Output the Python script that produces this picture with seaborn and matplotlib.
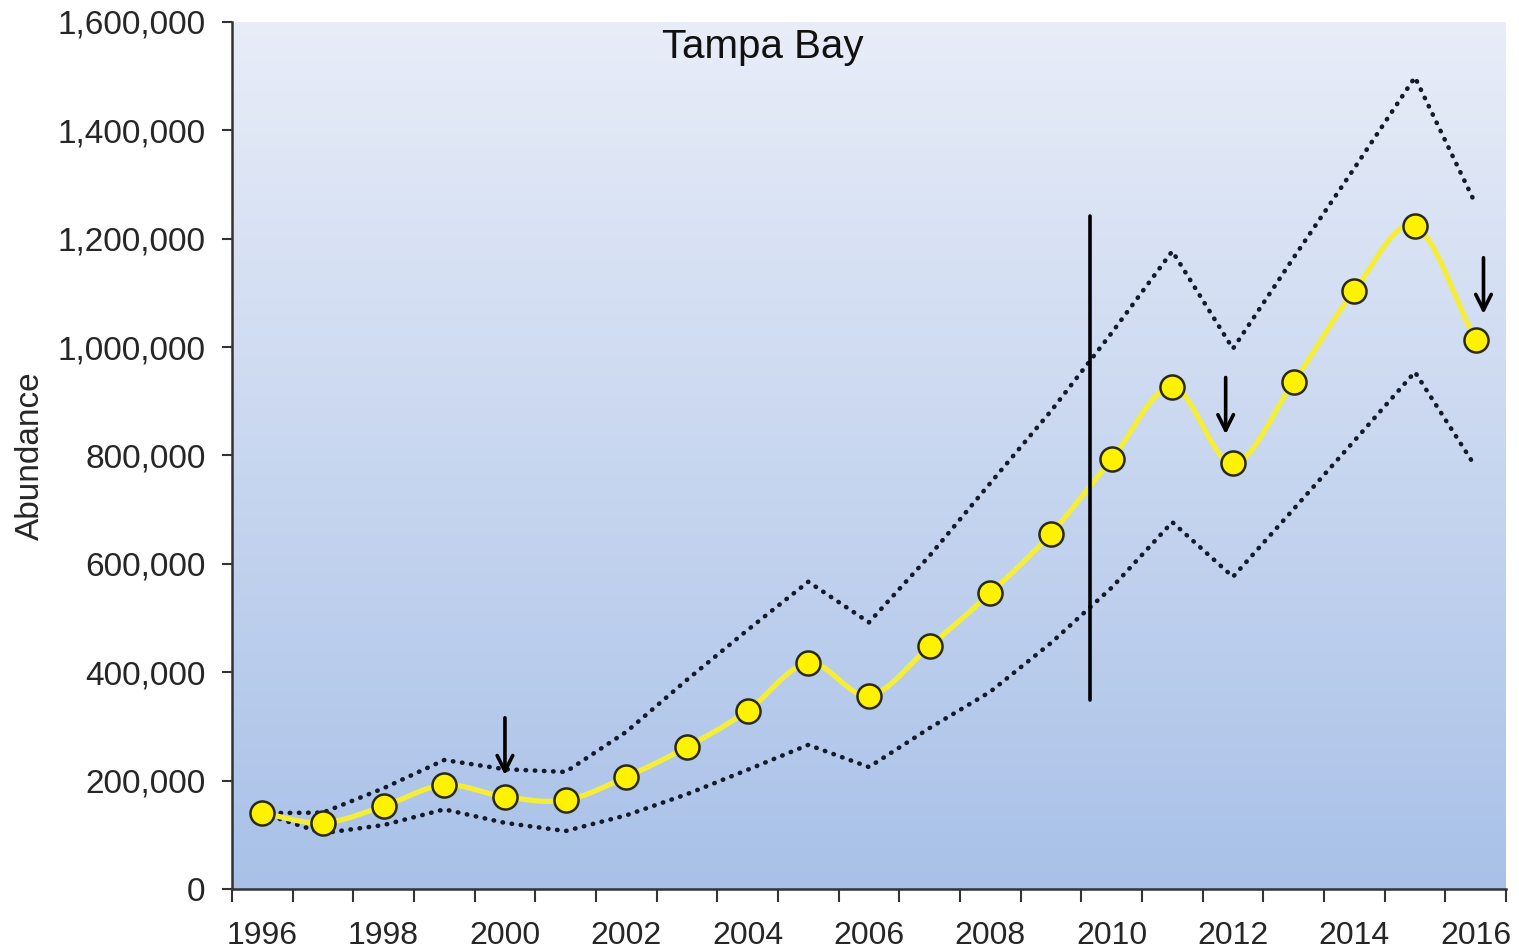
import numpy as np
import pandas as pd
import matplotlib
matplotlib.use("Agg")
import matplotlib.pyplot as plt
from matplotlib.ticker import FuncFormatter, MultipleLocator
import seaborn as sns

sns.set_theme(style="white")
plt.rcParams['font.family'] = ['Liberation Sans', 'DejaVu Sans']

# data
years = list(range(1996, 2017))
abundance = [140000, 122000, 153000, 192000, 170000, 164000, 207000, 262000,
             329000, 417000, 357000, 448000, 546000, 656000, 793000, 926000,
             786000, 936000, 1104000, 1223000, 1013000]
upper = [140000, 141000, 186000, 238000, 221000, 216000, 290000, 386000,
         478000, 567000, 492000, 615000, 749000, 882000, 1026000, 1177000,
         997000, 1165000, 1330000, 1498000, 1264000]
lower = [140000, 103000, 118000, 147000, 122000, 107000, 136000, 175000,
         220000, 266000, 225000, 297000, 364000, 454000, 556000, 677000,
         576000, 701000, 827000, 954000, 779000]

# vertical marker line and arrows (x in years, y in abundance)
vline_x = 2009.64
vline_y = (349000, 1242000)
arrow_x = [2000.0, 2011.88, 2016.13]
arrow_top = [321000, 949000, 1170000]
arrow_tip = [205000, 834000, 1056000]

df = pd.DataFrame({'Year': years, 'Abundance': abundance,
                   'Upper': upper, 'Lower': lower})


def smooth(x, y, n=20):
    # Catmull-Rom curve through the points, like a smoothed spreadsheet line
    x = np.asarray(x, float)
    y = np.asarray(y, float)
    px = np.concatenate([[2 * x[0] - x[1]], x, [2 * x[-1] - x[-2]]])
    py = np.concatenate([[2 * y[0] - y[1]], y, [2 * y[-1] - y[-2]]])
    t = np.linspace(0, 1, n, endpoint=False)
    xs, ys = [], []
    for i in range(1, len(px) - 2):
        for p, out in ((px, xs), (py, ys)):
            p0, p1, p2, p3 = p[i - 1], p[i], p[i + 1], p[i + 2]
            out.extend(0.5 * ((2 * p1) + (-p0 + p2) * t
                              + (2 * p0 - 5 * p1 + 4 * p2 - p3) * t ** 2
                              + (-p0 + 3 * p1 - 3 * p2 + p3) * t ** 3))
    xs.append(x[-1])
    ys.append(y[-1])
    return np.array(xs), np.array(ys)


fig = plt.figure(figsize=(15.19, 9.51), dpi=100)
ax = fig.add_axes([0.1527, 0.0652, 0.8387, 0.9117])

# gradient background, light at the top
grad = np.linspace(0, 1, 256).reshape(-1, 1)
cmap = matplotlib.colors.LinearSegmentedColormap.from_list('bg', ['#e8edf8', '#a9c1e8'])
ax.imshow(grad, aspect='auto', cmap=cmap, extent=[0, 1, 0, 1],
          origin='upper', transform=ax.transAxes, zorder=0)

for col in ['Upper', 'Lower']:
    sns.lineplot(data=df, x='Year', y=col, ax=ax, color='#141a2a',
                 linestyle=(0, (0.1, 1.9)), linewidth=3.3,
                 dash_capstyle='round', zorder=2)

sx, sy = smooth(df['Year'], df['Abundance'])
ax.plot(sx, sy, color='#f4ee3a', linewidth=3.8, zorder=3)
sns.scatterplot(data=df, x='Year', y='Abundance', ax=ax, color='#fff200',
                edgecolor='#2b2a10', linewidth=1.8, s=300, zorder=4)

ax.plot([vline_x, vline_x], vline_y, color='black', linewidth=2.6, zorder=5)
for xa, yt, yb in zip(arrow_x, arrow_top, arrow_tip):
    ax.annotate('', xy=(xa, yb), xytext=(xa, yt),
                arrowprops=dict(arrowstyle='->', color='black', lw=2.6,
                                mutation_scale=28), zorder=6)

ax.text(2004.25, 1553000, 'Tampa Bay', fontsize=29, ha='center',
        va='center', color='#111111')

ax.set_xlim(1995.5, 2016.5)
ax.set_ylim(0, 1600000)
ax.set_xticks(np.arange(1995.5, 2017, 1))
ax.set_xticklabels([])
ax.set_xticks(years[::2], minor=True)
ax.set_xticklabels([str(y) for y in years[::2]], minor=True, fontsize=23)
ax.tick_params(axis='x', which='major', direction='out', length=9,
               width=1.5, color='#333333', bottom=True)
ax.tick_params(axis='x', which='minor', length=0, pad=23, bottom=True)
ax.yaxis.set_major_locator(MultipleLocator(200000))
ax.yaxis.set_major_formatter(FuncFormatter(lambda v, p: f'{int(v):,}'))
ax.tick_params(axis='y', direction='out', length=7, width=1.5,
               color='#333333', labelsize=24, pad=12, left=True)
ax.set_xlabel('')
ax.set_ylabel('Abundance', fontsize=24, labelpad=8)

for side in ['top', 'right']:
    ax.spines[side].set_visible(False)
for side in ['left', 'bottom']:
    ax.spines[side].set_color('#333333')
    ax.spines[side].set_linewidth(1.8)

fig.savefig('out.png', dpi=100)
